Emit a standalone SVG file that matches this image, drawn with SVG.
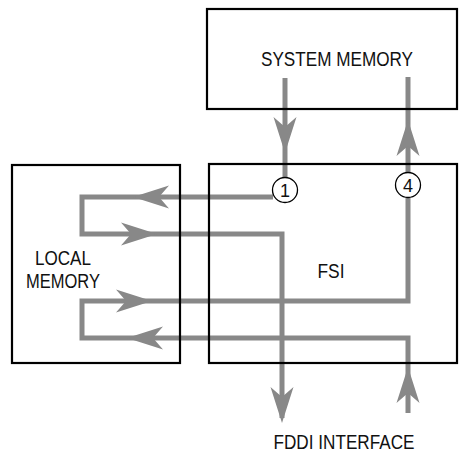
<svg xmlns="http://www.w3.org/2000/svg" xmlns:xlink="http://www.w3.org/1999/xlink" width="459" height="454" viewBox="0 0 459 454">
<style>
.box{fill:none;stroke:#000;stroke-width:2.2}
.flow{fill:none;stroke:#888;stroke-width:5;stroke-linejoin:miter}
.ah{fill:#888}
.lbl{font-family:"Liberation Sans",Arial,sans-serif;font-size:19.5px;fill:#111;text-anchor:middle}
.num{font-family:"Liberation Sans",Arial,sans-serif;font-size:18px;fill:#111;text-anchor:middle}
.ring{fill:#fff;stroke:#000;stroke-width:1.3}
</style>
<defs>
<path id="ah" d="M0,0 L-36,-11.5 L-26,0 L-36,11.5 Z"/>
</defs>
<rect width="459" height="454" fill="#fff"/>
<g id="connectors">
<path class="flow" d="M285,78 V178"/>
<path class="flow" d="M273,197 H82 V234 H282 V418"/>
<path class="flow" d="M408,413 V338 H82 V301 H408 V198"/>
<path class="flow" d="M408,172 V77"/>
<use class="ah" xlink:href="#ah" transform="translate(285,153) rotate(90)"/>
<use class="ah" xlink:href="#ah" transform="translate(408,120) rotate(-90)"/>
<use class="ah" xlink:href="#ah" transform="translate(133,197) rotate(180)"/>
<use class="ah" xlink:href="#ah" transform="translate(157,234)"/>
<use class="ah" xlink:href="#ah" transform="translate(152,301)"/>
<use class="ah" xlink:href="#ah" transform="translate(127,338) rotate(180)"/>
<use class="ah" xlink:href="#ah" transform="translate(282,423) rotate(90)"/>
<use class="ah" xlink:href="#ah" transform="translate(408,367) rotate(-90)"/>
</g>
<g id="system-memory">
<rect class="box" x="207" y="9" width="250" height="100"/>
<text class="lbl" x="337" y="66" textLength="152" lengthAdjust="spacingAndGlyphs">SYSTEM MEMORY</text>
</g>
<g id="fsi">
<rect class="box" x="209" y="164" width="248" height="199"/>
<text class="lbl" x="331" y="278" textLength="27" lengthAdjust="spacingAndGlyphs">FSI</text>
</g>
<g id="local-memory">
<rect class="box" x="12" y="165" width="168" height="198"/>
<text class="lbl" x="63" y="265" textLength="56" lengthAdjust="spacingAndGlyphs">LOCAL</text>
<text class="lbl" x="63" y="288" textLength="74" lengthAdjust="spacingAndGlyphs">MEMORY</text>
</g>
<g id="fddi-interface">
<text class="lbl" x="344" y="449" textLength="141" lengthAdjust="spacingAndGlyphs">FDDI INTERFACE</text>
</g>
<g id="step-1">
<circle class="ring" cx="285" cy="190" r="12.5"/>
<text class="num" x="285" y="196.5">1</text>
</g>
<g id="step-4">
<circle class="ring" cx="408" cy="185" r="12.5"/>
<text class="num" x="408" y="191.5">4</text>
</g>
</svg>
